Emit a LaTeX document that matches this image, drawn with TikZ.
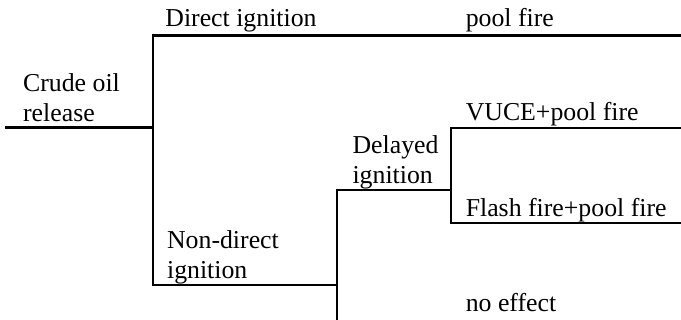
\documentclass[tikz,border=0pt]{standalone}
\usepackage{fontspec}
\setmainfont{Liberation Serif}
\usepackage{tikz}
\usetikzlibrary{positioning}
\tikzset{
  branch/.style={line width=1.3pt,black},
  evlabel/.style={anchor=base west,inner sep=0pt,align=left,font=\fontsize{12.9pt}{15pt}\selectfont},
}

\begin{document}
\begin{tikzpicture}
  \useasboundingbox (0,0) rectangle (11.97,-5.62);
  % junctions of the tree
  \coordinate (cRoot) at (0.09,-2.24);
  \coordinate (cJa) at (2.69,-2.24);
  \coordinate (cJaTop) at (2.69,-0.62);
  \coordinate (cJaBot) at (2.69,-5.01);
  \coordinate (cJb) at (5.92,-5.01);
  \coordinate (cJbTop) at (5.92,-3.34);
  \coordinate (cJbBot) at (5.92,-5.62);
  \coordinate (cJc) at (7.93,-3.34);
  \coordinate (cJcTop) at (7.93,-2.25);
  \coordinate (cJcBot) at (7.93,-3.92);
  \coordinate (cPool) at (11.97,-0.62);
  \coordinate (cVuce) at (11.97,-2.25);
  \coordinate (cFlash) at (11.97,-3.92);
  % labels (two-line labels sit on their last baseline)
  \node[evlabel] (lRelease) at (0.40,-2.14) {Crude oil\\release};
  \node[evlabel] (lDirect) at (2.90,-0.46) {Direct ignition};
  \node[evlabel] (lNondir) at (2.93,-4.89) {Non-direct\\ignition};
  \node[evlabel] (lDelayed) at (6.19,-3.22) {Delayed\\ignition};
  \node[evlabel] (lPool) at (8.18,-0.46) {pool fire};
  \node[evlabel] (lVuce) at (8.18,-2.11) {VUCE+pool fire};
  \node[evlabel] (lFlash) at (8.18,-3.81) {Flash fire+pool fire};
  \node[evlabel] (lNone) at (8.18,-5.47) {no effect};
  % branches
  \draw[branch] (cRoot) -- (cJa);
  \draw[branch] (cPool) -- (cJaTop) -- (cJaBot) -- (cJb);
  \draw[branch] (cJc) -- (cJbTop) -- (cJbBot);
  \draw[branch] (cVuce) -- (cJcTop) -- (cJcBot) -- (cFlash);
\end{tikzpicture}
\end{document}
